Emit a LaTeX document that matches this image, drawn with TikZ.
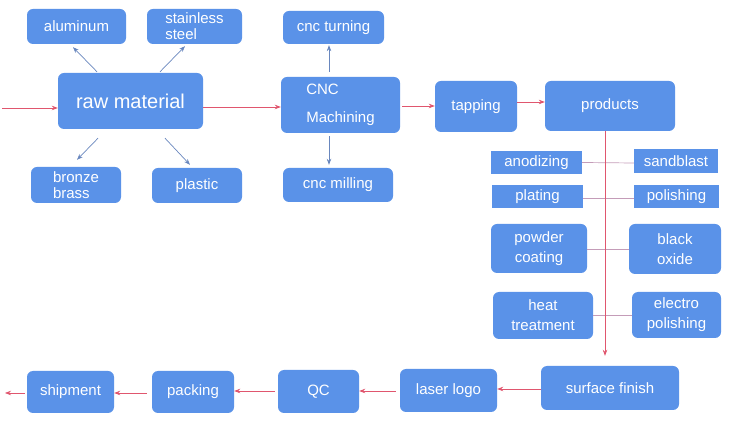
\documentclass[tikz,border=0pt]{standalone}
\usepackage{fontspec}
\setmainfont{Liberation Sans}
\usepackage{tikz}
\usetikzlibrary{shapes,arrows,arrows.meta,positioning}

\definecolor{boxblue}{RGB}{90,146,232}
\definecolor{flowred}{RGB}{224,86,110}
\definecolor{subgray}{RGB}{105,135,190}
\definecolor{linkmauve}{RGB}{196,156,184}

\begin{document}
\begin{tikzpicture}[x=1pt, y=1pt, >={Stealth[length=6pt,width=4.5pt]},
    box/.style={rectangle, rounded corners=6pt, fill=boxblue, text=white, inner sep=2pt,
        font=\fontsize{15}{17}\selectfont},
    tag/.style={rectangle, fill=boxblue, text=white, inner sep=2pt,
        font=\fontsize{15}{17}\selectfont},
    flow/.style={->, flowred, line width=0.7pt},
    sub/.style={->, subgray, line width=0.7pt},
    link/.style={linkmauve, line width=0.7pt}]
    \useasboundingbox (0,0) rectangle (755,436);

    \node[box, minimum width=145, minimum height=56, font=\fontsize{20}{24}\selectfont] (raw) at (130.5,335) {raw material};
    \node[box, minimum width=99, minimum height=35] (alu) at (76.5,409.5) {aluminum};
    \node[box, minimum width=95, minimum height=35, align=left] (stl) at (194.5,409.5) {stainless\\[-1pt]steel};
    \node[box, minimum width=90, minimum height=36, align=left] (brz) at (76,251) {bronze\\[-1pt]brass};
    \node[box, minimum width=90, minimum height=35] (pla) at (197,250.5) {plastic};

    \node[box, minimum width=119, minimum height=56, align=left] (cnc) at (340.5,331) {CNC\\[11pt]Machining};
    \node[box, minimum width=101, minimum height=33] (turn) at (333.5,408.5) {cnc turning};
    \node[box, minimum width=110, minimum height=34] (mill) at (338,251) {cnc milling};

    \node[box, minimum width=82, minimum height=51] (tap) at (476,329.5) {tapping};
    \node[box, minimum width=130, minimum height=50] (prod) at (610,330) {products};

    \node[tag, minimum width=91, minimum height=23] (anod) at (536.5,273.5) {anodizing};
    \node[tag, minimum width=84, minimum height=24] (sand) at (676,275) {sandblast};
    \node[tag, minimum width=91, minimum height=23] (plat) at (537.5,239.5) {plating};
    \node[tag, minimum width=85, minimum height=23] (pols) at (676.5,239.5) {polishing};
    \node[box, minimum width=96, minimum height=49, align=center] (powd) at (539,187.5) {powder\\[3pt]coating};
    \node[box, minimum width=92, minimum height=50, align=center] (blk) at (675,187) {black\\[3pt]oxide};
    \node[box, minimum width=100, minimum height=47, align=center] (heat) at (543,120.5) {heat\\[3pt]treatment};
    \node[box, minimum width=89, minimum height=46, align=center] (elec) at (676.5,121) {electro\\[3pt]polishing};

    \node[box, minimum width=138, minimum height=44] (surf) at (610,48) {surface finish};
    \node[box, minimum width=97, minimum height=43] (laser) at (448.5,45.5) {laser logo};
    \node[box, minimum width=81, minimum height=43] (qc) at (318.5,44.5) {QC};
    \node[box, minimum width=82, minimum height=42] (pack) at (193,44) {packing};
    \node[box, minimum width=87, minimum height=42] (ship) at (70.5,44) {shipment};

    \coordinate (in) at (2,328);
    \coordinate (out) at (5,43);

    \draw[sub] ([xshift=-33.5pt,yshift=1pt]raw.north) -- ([xshift=-3.5pt,yshift=-3pt]alu.south);
    \draw[sub] ([xshift=29.5pt,yshift=1pt]raw.north) -- ([xshift=-9.5pt,yshift=-2pt]stl.south);
    \draw[sub] ([xshift=-32.5pt,yshift=-9pt]raw.south) -- ([xshift=1pt,yshift=7pt]brz.north);
    \draw[sub] ([xshift=34.5pt,yshift=-9pt]raw.south) -- ([xshift=-7pt,yshift=3pt]pla.north);
    \draw[sub] ([xshift=-11.5pt,yshift=5pt]cnc.north) -- ([xshift=-4.5pt,yshift=-1pt]turn.south);
    \draw[sub] ([xshift=-11.5pt,yshift=-3pt]cnc.south) -- ([xshift=-9pt,yshift=3pt]mill.north);

    \draw[link] (anod.east) -- ([yshift=-2pt]sand.west);
    \draw[link] ([yshift=-1.5pt]plat.east) -- ([yshift=-1.5pt]pols.west);
    \draw[link] ([yshift=-0.5pt]powd.east) -- (blk.west);
    \draw[link] ([yshift=0.5pt]heat.east) -- (elec.west);

    \draw[flow] (in) -- ([yshift=-7pt]raw.west);
    \draw[flow] ([yshift=-6pt]raw.east) -- ([yshift=-2pt]cnc.west);
    \draw[flow, shorten <=2pt] ([yshift=-1pt]cnc.east) -- ([yshift=0.5pt]tap.west);
    \draw[flow] ([yshift=4.5pt]tap.east) -- ([yshift=4pt]prod.west);
    \draw[flow, shorten >=10pt] ([xshift=-5pt]prod.south) -- ([xshift=-5pt]surf.north);
    \draw[flow] ([yshift=-1pt]surf.west) -- ([yshift=1.5pt]laser.east);
    \draw[flow, shorten <=4pt] ([yshift=-0.5pt]laser.west) -- ([yshift=0.5pt]qc.east);
    \draw[flow, shorten <=3pt] ([yshift=0.5pt]qc.west) -- ([yshift=1pt]pack.east);
    \draw[flow, shorten <=5pt] ([yshift=-1pt]pack.west) -- ([yshift=-1pt]ship.east);
    \draw[flow, shorten <=2pt] ([yshift=-1pt]ship.west) -- (out);
\end{tikzpicture}
\end{document}
